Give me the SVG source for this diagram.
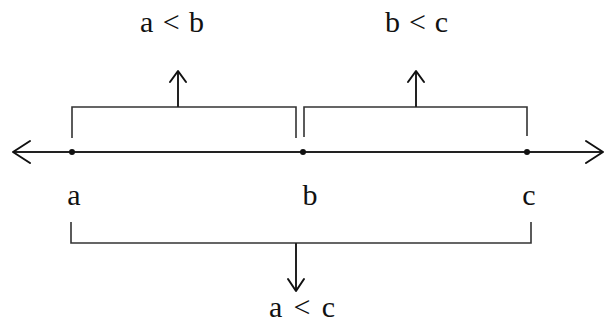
<svg xmlns="http://www.w3.org/2000/svg" width="605" height="322" viewBox="0 0 605 322">
<style>
.t{font-family:"Liberation Serif","Times New Roman",serif;font-size:30px;fill:#111;}
.ln{stroke:#222;stroke-width:2;fill:none;}
.br{stroke:#333;stroke-width:1.6;fill:none;}
.ah{stroke:#111;stroke-width:2;fill:none;stroke-linecap:round;stroke-linejoin:round;}
</style>
<rect width="605" height="322" fill="#fff"/>
<g id="connectors">
<line class="ln" x1="13" y1="152" x2="603" y2="152"/>
<polyline class="ah" points="30,141 13,152 30,163"/>
<polyline class="ah" points="586,141 603,152 586,163"/>
<polyline class="br" points="72,138 72,107 296,107 296,138"/>
<polyline class="br" points="304,137 304,107 527,107 527,136"/>
<line class="ln" x1="178" y1="107" x2="178" y2="72"/>
<polyline class="ah" points="170,82 178,71 186,82"/>
<line class="ln" x1="416" y1="107" x2="416" y2="72"/>
<polyline class="ah" points="408,82 416,71 424,82"/>
<polyline class="br" points="71,222 71,243 531,243 531,222"/>
<line class="ln" x1="296" y1="243" x2="296" y2="290"/>
<polyline class="ah" points="288,279 296,291 304,279"/>
</g>
<g id="point-a"><circle cx="72" cy="152" r="3" fill="#111"/><text class="t" x="74" y="205" text-anchor="middle">a</text></g>
<g id="point-b"><circle cx="303" cy="152" r="3" fill="#111"/><text class="t" x="310" y="205" text-anchor="middle">b</text></g>
<g id="point-c"><circle cx="527" cy="152" r="3" fill="#111"/><text class="t" x="529" y="205" text-anchor="middle">c</text></g>
<g id="label-ab"><text class="t" x="140" y="32" textLength="64" lengthAdjust="spacing">a &lt; b</text></g>
<g id="label-bc"><text class="t" x="385" y="32" textLength="63" lengthAdjust="spacing">b &lt; c</text></g>
<g id="label-ac"><text class="t" x="269" y="317" textLength="66" lengthAdjust="spacing">a &lt; c</text></g>
</svg>
